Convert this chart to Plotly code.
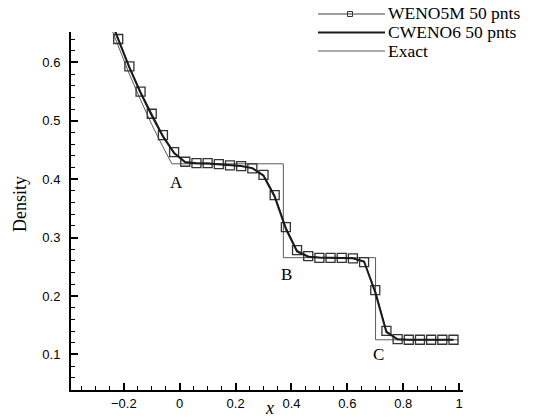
import plotly.graph_objects as go

# ---- data ----
x_num = [-0.26, -0.22, -0.18, -0.14, -0.10, -0.06, -0.02, 0.02, 0.06, 0.10, 0.14,
         0.18, 0.22, 0.26, 0.30, 0.34, 0.38, 0.42, 0.46, 0.50, 0.54, 0.58, 0.62,
         0.66, 0.70, 0.74, 0.78, 0.82, 0.86, 0.90, 0.94, 0.98]
weno5m = [0.690, 0.640, 0.593, 0.550, 0.512, 0.4755, 0.4464, 0.4298, 0.4276, 0.4276,
          0.4259, 0.4236, 0.4224, 0.4185, 0.4075, 0.3728, 0.318, 0.2786, 0.2683,
          0.2654, 0.2654, 0.2654, 0.2644, 0.258, 0.210, 0.1404, 0.1262, 0.125,
          0.125, 0.125, 0.125, 0.125]
cweno6 = [0.688, 0.638, 0.591, 0.548, 0.509, 0.473, 0.4445, 0.4290, 0.4272, 0.4270,
          0.4257, 0.4240, 0.4226, 0.4190, 0.4060, 0.3700, 0.3150, 0.2760, 0.2672,
          0.2658, 0.2656, 0.2655, 0.2646, 0.2590, 0.2060, 0.1380, 0.1258, 0.125,
          0.125, 0.125, 0.125, 0.125]
x_exact = [-0.26, -0.22, -0.18, -0.14, -0.10, -0.06, -0.028, 0.371, 0.371, 0.701, 0.701, 1.0]
rho_exact = [0.6768, 0.6268, 0.5798, 0.5357, 0.4935, 0.4555, 0.4263, 0.4263, 0.2656,
             0.2656, 0.125, 0.125]

series_names = ["WENO5M 50 pnts", "CWENO6 50 pnts", "Exact"]
point_labels = ["A", "B", "C"]
label_x = [-0.013, 0.381, 0.712]
label_y = [0.395, 0.236, 0.099]

x_range = [-0.389, 1.014]
y_range = [0.039, 0.652]

SERIF = "Liberation Serif, Times New Roman, serif"
SANS = "Liberation Sans, Arial, sans-serif"

FW, FH = 536, 419

fig = go.Figure()
fig.add_trace(go.Scatter(x=x_exact, y=rho_exact, mode="lines",
                         line=dict(color="#5a5a5a", width=1), name=series_names[2]))
fig.add_trace(go.Scatter(x=x_num, y=weno5m, mode="lines+markers",
                         line=dict(color="#404040", width=1),
                         marker=dict(symbol="square-open", size=9, color="#333333",
                                     line=dict(width=1.3, color="#333333")),
                         name=series_names[0]))
fig.add_trace(go.Scatter(x=x_num, y=cweno6, mode="lines",
                         line=dict(color="#1a1a1a", width=2), name=series_names[1]))

# point labels
for t, xx, yy in zip(point_labels, label_x, label_y):
    fig.add_annotation(x=xx, y=yy, text=t, showarrow=False,
                       font=dict(family=SERIF, size=17, color="black"))

# plot area in page pixels
L, R, T, B = 71, 463, 32, 390
W, H = R - L, B - T
def px(p):
    return (p - L) / W
def py(p):
    return (B - p) / H

# manual legend (paper coords)
rows_y = [14, 32.5, 51]
styles = [("#404040", 1), ("#1a1a1a", 2), ("#5a5a5a", 1)]
for name, ry, (col, wd) in zip(series_names, rows_y, styles):
    fig.add_shape(type="line", xref="paper", yref="paper",
                  x0=px(318), x1=px(385), y0=py(ry), y1=py(ry),
                  line=dict(color=col, width=wd))
    fig.add_annotation(xref="paper", yref="paper", x=px(386), y=py(ry - 0.5),
                       text=name, showarrow=False, xanchor="left", yanchor="middle",
                       font=dict(family=SERIF, size=17.5, color="black"))
fig.add_shape(type="rect", xref="paper", yref="paper",
              x0=px(347.5), x1=px(352.5), y0=py(rows_y[0] + 2.5), y1=py(rows_y[0] - 2.5),
              line=dict(color="#333333", width=1), fillcolor="rgba(0,0,0,0)")

# axis titles
fig.add_annotation(xref="paper", yref="paper", x=px(269), y=py(408),
                   text="<i>x</i>", showarrow=False, xanchor="center", yanchor="middle",
                   font=dict(family=SERIF, size=18, color="black"))
fig.add_annotation(xref="paper", yref="paper", x=px(20), y=py(204),
                   text="Density", showarrow=False, textangle=-90,
                   xanchor="center", yanchor="middle",
                   font=dict(family=SERIF, size=18, color="black"))

fig.update_layout(
    width=FW, height=FH,
    margin=dict(l=L, r=FW - R, t=T, b=FH - B, autoexpand=False),
    paper_bgcolor="white", plot_bgcolor="white",
    showlegend=False,
    xaxis=dict(range=x_range, showgrid=False, zeroline=False, automargin=False,
               showline=True, linewidth=2, linecolor="black",
               ticks="inside", ticklen=7, tickwidth=2, tickcolor="black",
               tick0=0, dtick=0.2, tickformat="~g",
               tickfont=dict(family=SANS, size=13, color="black"),
               minor=dict(ticks="inside", ticklen=4, tickwidth=1, tickcolor="black",
                          dtick=0.05, tick0=0)),
    yaxis=dict(range=y_range, showgrid=False, zeroline=False, automargin=False,
               showline=True, linewidth=2, linecolor="black",
               ticks="inside", ticklen=7, tickwidth=2, tickcolor="black",
               tick0=0, dtick=0.1, tickformat=".1f", ticklabelstandoff=6,
               tickfont=dict(family=SANS, size=13, color="black"),
               minor=dict(ticks="inside", ticklen=4, tickwidth=1, tickcolor="black",
                          dtick=0.02, tick0=0)),
)

fig.write_html("out.html", config={"displayModeBar": False},
               post_script="document.body.style.margin='0';document.body.style.overflow='hidden';")
